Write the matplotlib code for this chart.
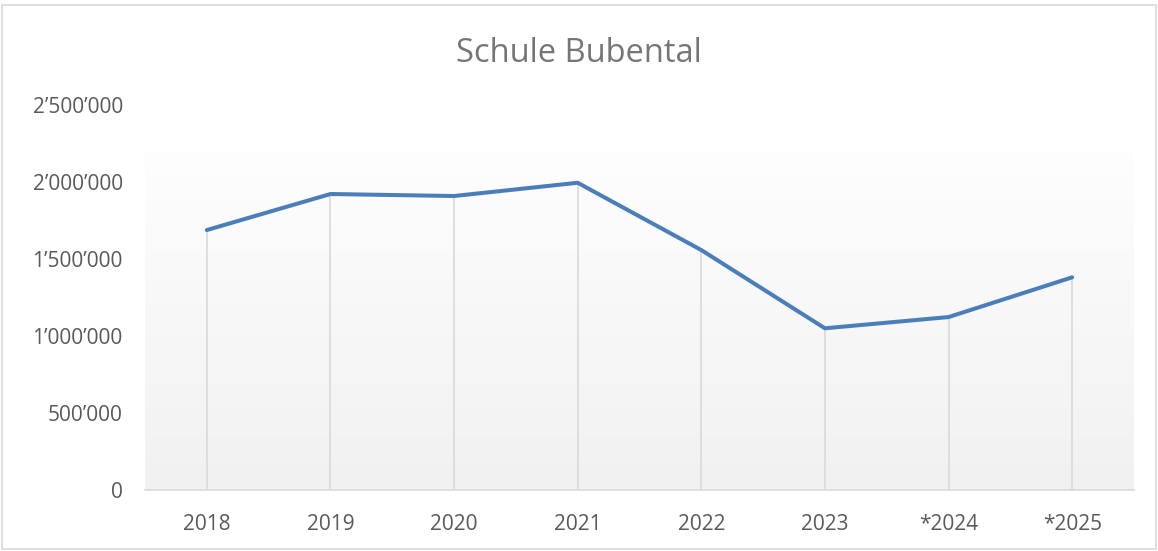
import numpy as np
import matplotlib
matplotlib.use("Agg")
import matplotlib.pyplot as plt
from matplotlib.ticker import FuncFormatter
from matplotlib.patches import Rectangle

plt.rcParams['font.family'] = ['Open Sans', 'DejaVu Sans']

# data
years = ['2018', '2019', '2020', '2021', '2022', '2023', '*2024', '*2025']
values = [1688000, 1922000, 1909000, 1995000, 1558000, 1050000, 1123000, 1381000]
y_ticks = [0, 500000, 1000000, 1500000, 2000000, 2500000]

W, H = 1158, 551
fig = plt.figure(figsize=(W / 100, H / 100), dpi=100)
ax = fig.add_axes([145 / W, 61 / H, 989 / W, 385 / H])

x = np.arange(len(years))

# plot area gradient (white-ish at top -> light gray at bottom)
grad = np.linspace(0, 1, 256).reshape(-1, 1)
top_c = np.array([0.995, 0.995, 0.995])
bot_c = np.array([0.945, 0.945, 0.945])
img = (top_c + (bot_c - top_c) * grad)[:, None, :]
img = np.repeat(img, 2, axis=1)
ax.imshow(img, extent=[-0.5, len(years) - 0.5, 0, 2188000],
          aspect='auto', zorder=0, origin='upper')

# drop lines
ax.vlines(x, 0, values, color='#d9d9d9', linewidth=1.2, zorder=1)
ax.plot(x, values, color='#4a7ebb', linewidth=2.9, solid_capstyle='round',
        solid_joinstyle='round', zorder=3)

ax.set_xlim(-0.5, len(years) - 0.5)
ax.set_ylim(0, 2500000)
ax.set_xticks(x)
ax.set_xticklabels(years)
ax.set_yticks(y_ticks)
ax.yaxis.set_major_formatter(FuncFormatter(lambda v, p: f"{int(v):,}".replace(',', '\u2019')))

for s in ['top', 'right', 'left']:
    ax.spines[s].set_visible(False)
ax.spines['bottom'].set_color('#d9d9d9')
ax.spines['bottom'].set_linewidth(1.2)
ax.tick_params(axis='both', length=0, labelsize=15, labelcolor='#595959')
ax.tick_params(axis='x', pad=17)
ax.tick_params(axis='y', pad=16)
ax.set_facecolor('white')

fig.text(0.5, 1 - 62 / H, 'Schule Bubental', ha='center', va='baseline',
         fontsize=23.5, color='#757575')

# outer chart border
fig.patches.append(Rectangle((2 / W, 2 / H), 1 - 4 / W, 1 - 7 / H,
                             transform=fig.transFigure, fill=False,
                             edgecolor='#d9d9d9', linewidth=1.2))

fig.savefig('out.png', dpi=100)
